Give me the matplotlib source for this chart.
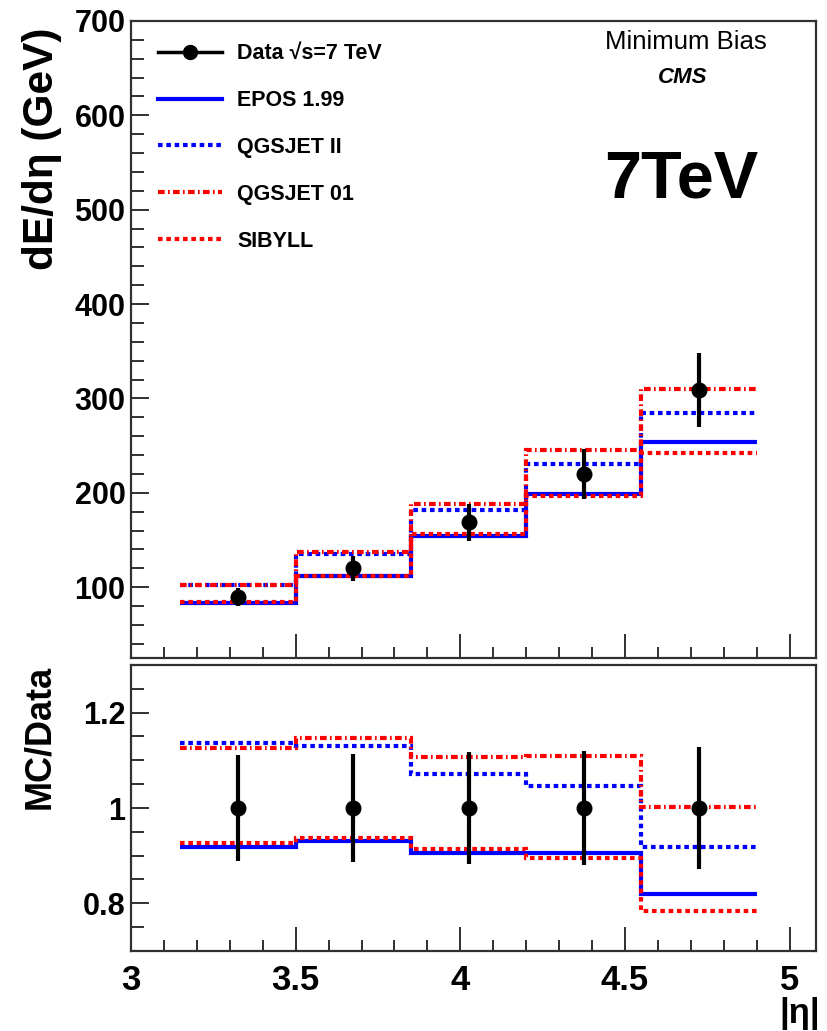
import matplotlib
matplotlib.use("Agg")
import matplotlib.pyplot as plt
from matplotlib.lines import Line2D
from matplotlib.ticker import MultipleLocator, FixedLocator

# ---------------- data ----------------
eta_edges = [3.15, 3.5, 3.85, 4.2, 4.55, 4.9]
eta_centers = [3.325, 3.675, 4.025, 4.375, 4.725]

data_dedeta = [90, 120, 169, 220, 309]
data_err = [9.5, 13, 19.5, 26, 39]
epos = [83, 112, 154, 199, 254]
qgsjet2 = [102, 135, 182, 231, 285]
qgsjet01 = [102, 137, 188, 245, 310]
sibyll = [84, 112, 156, 197, 242]

ratio_data = [1, 1, 1, 1, 1]
ratio_err = [0.111, 0.113, 0.117, 0.12, 0.127]
epos_ratio = [0.919, 0.930, 0.905, 0.906, 0.820]
qgsjet2_ratio = [1.136, 1.130, 1.071, 1.047, 0.919]
qgsjet01_ratio = [1.126, 1.147, 1.106, 1.109, 1.003]
sibyll_ratio = [0.926, 0.937, 0.914, 0.895, 0.783]

labels = ["Data \u221as=7 TeV", "EPOS 1.99", "QGSJET II", "QGSJET 01", "SIBYLL"]
x_ticks = [3, 3.5, 4, 4.5, 5]
x_ticklabels = ["3", "3.5", "4", "4.5", "5"]
top_yticks = [100, 200, 300, 400, 500, 600, 700]
ratio_yticks = [0.8, 1.0, 1.2]
ratio_yticklabels = ["0.8", "1", "1.2"]

# ---------------- style ----------------
BLUE = "#0000ff"
RED = "#ff0000"
FONT = "Liberation Sans"
plt.rcParams["font.family"] = [FONT, "DejaVu Sans"]
plt.rcParams["font.weight"] = "bold"

lw = 3.0
styles = {
    "epos": dict(color=BLUE, ls="-", lw=lw),
    "q2": dict(color=BLUE, ls=(0, (1.1, 0.9)), lw=lw),
    "q01": dict(color=RED, ls=(0, (1.6, 0.8, 0.4, 0.8)), lw=lw),
    "sib": dict(color=RED, ls=(0, (1.1, 0.9)), lw=lw),
}

fig = plt.figure(figsize=(8.27, 10.31), dpi=100)
W, H = 827.0, 1031.0
L, R = 131.0, 816.0
ax1 = fig.add_axes([L / W, 1 - 658 / H, (R - L) / W, (658 - 21) / H])
ax2 = fig.add_axes([L / W, 1 - 951 / H, (R - L) / W, (951 - 665) / H])

def style_axes(ax):
    for s in ax.spines.values():
        s.set_color("#303030")
        s.set_linewidth(1.6)
    ax.set_xlim(3.0, 5.08)
    ax.xaxis.set_major_locator(FixedLocator(x_ticks))
    ax.xaxis.set_minor_locator(MultipleLocator(0.1))
    ax.tick_params(axis="both", which="both", direction="in", top=False, right=False,
                   color="#303030", width=1.4)
    ax.tick_params(axis="x", which="major", length=17)
    ax.tick_params(axis="x", which="minor", length=8)
    ax.tick_params(axis="y", which="major", length=13)
    ax.tick_params(axis="y", which="minor", length=9)

# ---------------- top panel ----------------
style_axes(ax1)
ax1.stairs(epos, eta_edges, baseline=None, **styles["epos"], zorder=2)
ax1.stairs(qgsjet2, eta_edges, baseline=None, **styles["q2"], zorder=3)
ax1.stairs(qgsjet01, eta_edges, baseline=None, **styles["q01"], zorder=4)
ax1.stairs(sibyll, eta_edges, baseline=None, **styles["sib"], zorder=5)
ax1.errorbar(eta_centers, data_dedeta, yerr=data_err, fmt="o", color="black",
             ms=10.5, elinewidth=3, capsize=0, zorder=10)
ax1.set_ylim(25, 700)
ax1.yaxis.set_major_locator(FixedLocator(top_yticks))
ax1.yaxis.set_minor_locator(MultipleLocator(20))
ax1.set_xticklabels([])
ax1.tick_params(axis="y", pad=4, labelsize=22)
for t in ax1.get_yticklabels():
    t.set_fontweight("bold")

handles = [
    Line2D([], [], color="black", lw=2.5, marker="o", ms=10),
    Line2D([], [], **styles["epos"]),
    Line2D([], [], **styles["q2"]),
    Line2D([], [], **styles["q01"]),
    Line2D([], [], **styles["sib"]),
]
leg = ax1.legend(handles, labels, loc="upper left", bbox_to_anchor=(0.0395, 0.965),
                 frameon=False, prop=dict(family=FONT, weight="bold", size=15.5),
                 handlelength=2.98, handletextpad=0.7, labelspacing=1.2,
                 borderpad=0, borderaxespad=0)

ax1.text(0.81, 0.967, "Minimum Bias", transform=ax1.transAxes, ha="center", va="center",
         fontsize=18.5, fontweight="normal", family=FONT)
ax1.text(0.806, 0.912, "CMS", transform=ax1.transAxes, ha="center", va="center",
         fontsize=16, fontweight="bold", fontstyle="italic", family=FONT)
ax1.text(0.804, 0.750, "7TeV", transform=ax1.transAxes, ha="center", va="center",
         fontsize=48, fontweight="bold", family=FONT)

fig.text(42 / W, 1 - 149 / H, "dE/d\u03b7 (GeV)", rotation=90, ha="center", va="center",
         fontsize=30.5, fontweight="bold", family=FONT)

# ---------------- ratio panel ----------------
style_axes(ax2)
ax2.stairs(epos_ratio, eta_edges, baseline=None, **styles["epos"], zorder=2)
ax2.stairs(qgsjet2_ratio, eta_edges, baseline=None, **styles["q2"], zorder=3)
ax2.stairs(qgsjet01_ratio, eta_edges, baseline=None, **styles["q01"], zorder=4)
ax2.stairs(sibyll_ratio, eta_edges, baseline=None, **styles["sib"], zorder=5)
ax2.errorbar(eta_centers, ratio_data, yerr=ratio_err, fmt="o", color="black",
             ms=10.5, elinewidth=3, capsize=0, zorder=10)
ax2.set_ylim(0.70, 1.30)
ax2.yaxis.set_major_locator(FixedLocator(ratio_yticks))
ax2.yaxis.set_minor_locator(MultipleLocator(0.05))
ax2.set_yticklabels(ratio_yticklabels)
ax2.set_xticklabels(x_ticklabels)
ax2.tick_params(axis="y", pad=4, labelsize=22)
ax2.tick_params(axis="x", pad=9, labelsize=25)
for t in ax2.get_xticklabels() + ax2.get_yticklabels():
    t.set_fontweight("bold")

fig.text(40 / W, 1 - 737 / H, "MC/Data", rotation=90, ha="center", va="center",
         fontsize=26, fontweight="bold", family=FONT)
fig.text(820 / W, 1 - 1013 / H, "|\u03b7|", ha="right", va="center",
         fontsize=25, fontweight="bold", family=FONT)

fig.savefig("out.png", dpi=100)
